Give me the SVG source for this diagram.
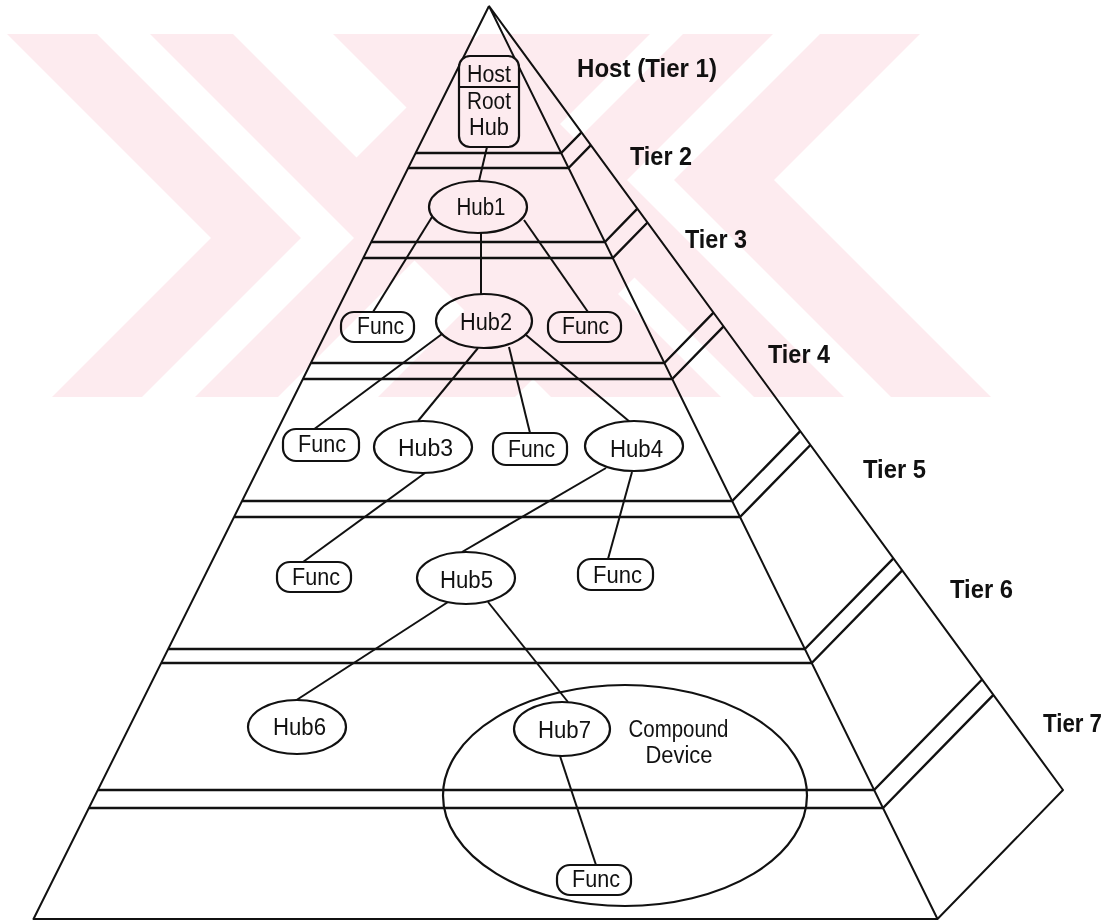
<svg xmlns="http://www.w3.org/2000/svg" width="1112" height="922" viewBox="0 0 1112 922">
  <defs>
    <style>
      .edge { fill: none; stroke: #111; stroke-width: 2; stroke-linejoin: round; }
      .tier { fill: none; stroke: #111; stroke-width: 2.4; stroke-linejoin: round; }
      .wire { fill: none; stroke: #111; stroke-width: 2; }
      .hub { fill: #fff; stroke: #111; stroke-width: 2.2; }
      .func { fill: #fff; stroke: #111; stroke-width: 2.2; }
      .ntext { font-family: "Liberation Sans", Arial, sans-serif; font-size: 23px; fill: #111; text-anchor: middle; }
      .tlabel { font-family: "Liberation Sans", Arial, sans-serif; font-size: 25px; font-weight: bold; fill: #111; }
      .wm { fill: #fdebef; }
    </style>
    <clipPath id="wmclip"><rect x="0" y="34" width="1112" height="363"/></clipPath>
  </defs>
  <rect width="1112" height="922" fill="#fff"/>

  <!-- pyramid outline: front face and right side face -->
  <g id="pyramid">
    <path class="edge" d="M489,6 L33.5,919 L937.5,919 L1063,790 L489,6 M489,6 L937.5,919"/>
  </g>

  <!-- tier separators: double line on the front face, continued up the side face -->
  <g id="tiers">
    <polyline class="tier" points="415.7,153 561.2,153 581.5,132.3"/>
    <polyline class="tier" points="408.2,168 568.6,168 590.9,145.2"/>
    <polyline class="tier" points="371.3,242 604.9,242 637.4,208.7"/>
    <polyline class="tier" points="363.3,258 612.8,258 647.5,222.5"/>
    <polyline class="tier" points="310.9,363 664.4,363 713.5,312.7"/>
    <polyline class="tier" points="302.9,379 672.2,379 723.6,326.4"/>
    <polyline class="tier" points="242,501 732.2,501 800.3,431.2"/>
    <polyline class="tier" points="234.1,517 740,517 810.4,445"/>
    <polyline class="tier" points="168.2,649 804.9,649 893.4,558.4"/>
    <polyline class="tier" points="161.2,663 811.7,663 902.2,570.4"/>
    <polyline class="tier" points="97.9,790 874.1,790 982.1,679.5"/>
    <polyline class="tier" points="88.9,808 883,808 993.4,694.9"/>
  </g>

  <!-- tier labels -->
  <g id="labels">
    <text class="tlabel" x="577" y="77" textLength="140" lengthAdjust="spacingAndGlyphs">Host (Tier 1)</text>
    <text class="tlabel" x="630" y="165" textLength="62" lengthAdjust="spacingAndGlyphs">Tier 2</text>
    <text class="tlabel" x="685" y="248" textLength="62" lengthAdjust="spacingAndGlyphs">Tier 3</text>
    <text class="tlabel" x="768" y="363" textLength="62" lengthAdjust="spacingAndGlyphs">Tier 4</text>
    <text class="tlabel" x="863" y="478" textLength="63" lengthAdjust="spacingAndGlyphs">Tier 5</text>
    <text class="tlabel" x="950" y="598" textLength="63" lengthAdjust="spacingAndGlyphs">Tier 6</text>
    <text class="tlabel" x="1043" y="732" textLength="59" lengthAdjust="spacingAndGlyphs">Tier 7</text>
  </g>

  <!-- connections between devices -->
  <g id="connectors">
    <line class="wire" x1="487" y1="147" x2="479" y2="181"/>
    <line class="wire" x1="432" y1="217" x2="373" y2="312"/>
    <line class="wire" x1="481" y1="233" x2="481" y2="294"/>
    <line class="wire" x1="524" y1="220" x2="588" y2="312"/>
    <line class="wire" x1="442" y1="334" x2="313" y2="430"/>
    <line class="wire" x1="478" y1="348" x2="418" y2="421"/>
    <line class="wire" x1="509" y1="347" x2="530" y2="433"/>
    <line class="wire" x1="526" y1="335" x2="630" y2="422"/>
    <line class="wire" x1="425" y1="473" x2="303" y2="562"/>
    <line class="wire" x1="606" y1="468" x2="462" y2="552"/>
    <line class="wire" x1="632" y1="472" x2="608" y2="559"/>
    <line class="wire" x1="448" y1="602" x2="295" y2="701"/>
    <line class="wire" x1="488" y1="602" x2="568" y2="702"/>
    <line class="wire" x1="560" y1="756" x2="596" y2="865"/>
  </g>

  <!-- host with root hub -->
  <g id="host">
    <rect class="func" x="459" y="56" width="60" height="91" rx="11"/>
    <line class="wire" x1="459" y1="87" x2="519" y2="87"/>
    <text class="ntext" x="489" y="82" textLength="44" lengthAdjust="spacingAndGlyphs">Host</text>
    <text class="ntext" x="489" y="109" textLength="44" lengthAdjust="spacingAndGlyphs">Root</text>
    <text class="ntext" x="489" y="135" textLength="40" lengthAdjust="spacingAndGlyphs">Hub</text>
  </g>

  <g id="hub1">
    <ellipse class="hub" cx="478" cy="207" rx="49" ry="26"/>
    <text class="ntext" x="481" y="215" textLength="49" lengthAdjust="spacingAndGlyphs">Hub1</text>
  </g>
  <g id="func-t3-left">
    <rect class="func" x="341" y="312" width="73" height="30" rx="13"/>
    <text class="ntext" x="380.5" y="334" textLength="47" lengthAdjust="spacingAndGlyphs">Func</text>
  </g>
  <g id="hub2">
    <ellipse class="hub" cx="484" cy="321" rx="48" ry="27"/>
    <text class="ntext" x="486" y="330" textLength="52" lengthAdjust="spacingAndGlyphs">Hub2</text>
  </g>
  <g id="func-t3-right">
    <rect class="func" x="548" y="312" width="73" height="30" rx="13"/>
    <text class="ntext" x="585.5" y="334" textLength="47" lengthAdjust="spacingAndGlyphs">Func</text>
  </g>

  <g id="func-t4-a">
    <rect class="func" x="283" y="429" width="76" height="32" rx="13"/>
    <text class="ntext" x="322" y="452" textLength="48" lengthAdjust="spacingAndGlyphs">Func</text>
  </g>
  <g id="hub3">
    <ellipse class="hub" cx="423" cy="447" rx="49" ry="26"/>
    <text class="ntext" x="425.5" y="456" textLength="55" lengthAdjust="spacingAndGlyphs">Hub3</text>
  </g>
  <g id="func-t4-b">
    <rect class="func" x="493" y="433" width="74" height="32" rx="13"/>
    <text class="ntext" x="531.5" y="457" textLength="47" lengthAdjust="spacingAndGlyphs">Func</text>
  </g>
  <g id="hub4">
    <ellipse class="hub" cx="634" cy="446" rx="49" ry="25"/>
    <text class="ntext" x="636.5" y="457" textLength="53" lengthAdjust="spacingAndGlyphs">Hub4</text>
  </g>

  <g id="func-t5-a">
    <rect class="func" x="277" y="562" width="74" height="30" rx="13"/>
    <text class="ntext" x="316" y="585" textLength="48" lengthAdjust="spacingAndGlyphs">Func</text>
  </g>
  <g id="hub5">
    <ellipse class="hub" cx="466" cy="578" rx="49" ry="26"/>
    <text class="ntext" x="466.5" y="588" textLength="53" lengthAdjust="spacingAndGlyphs">Hub5</text>
  </g>
  <g id="func-t5-b">
    <rect class="func" x="578" y="559" width="75" height="31" rx="13"/>
    <text class="ntext" x="617.5" y="583" textLength="49" lengthAdjust="spacingAndGlyphs">Func</text>
  </g>

  <g id="hub6">
    <ellipse class="hub" cx="297" cy="727" rx="49" ry="27"/>
    <text class="ntext" x="299.5" y="735" textLength="53" lengthAdjust="spacingAndGlyphs">Hub6</text>
  </g>

  <!-- compound device: Hub7 plus its embedded function -->
  <g id="compound-device">
    <ellipse fill="none" stroke="#111" stroke-width="2.2" cx="625" cy="795.5" rx="182" ry="110.5"/>
    <text class="ntext" x="678.5" y="737" textLength="100" lengthAdjust="spacingAndGlyphs">Compound</text>
    <text class="ntext" x="679" y="763" textLength="67" lengthAdjust="spacingAndGlyphs">Device</text>
  </g>
  <g id="hub7">
    <ellipse class="hub" cx="562" cy="729" rx="48" ry="27"/>
    <text class="ntext" x="564.5" y="738" textLength="53" lengthAdjust="spacingAndGlyphs">Hub7</text>
  </g>
  <g id="func-t7">
    <rect class="func" x="557" y="865" width="74" height="30" rx="13"/>
    <text class="ntext" x="596" y="887" textLength="48" lengthAdjust="spacingAndGlyphs">Func</text>
  </g>

  <!-- pale background stamp: nested chevrons from both sides, multiplied over the drawing -->
  <g id="stamp" clip-path="url(#wmclip)" style="mix-blend-mode:multiply">
    <polygon class="wm" points="7,34 97,34 301,238 142,397 52,397 211,238"/>
    <polygon class="wm" points="150,34 233,34 437,238 278,397 195,397 354,238"/>
    <polygon class="wm" points="333,34 470,34 674,238 515,397 378,397 537,238"/>
    <polygon class="wm" points="820,34 920,34 774,180 991,397 891,397 674,180"/>
    <polygon class="wm" points="683,34 773,34 627,180 844,397 754,397 537,180"/>
    <polygon class="wm" points="480,34 650,34 504,180 721,397 551,397 334,180"/>
  </g>
</svg>
